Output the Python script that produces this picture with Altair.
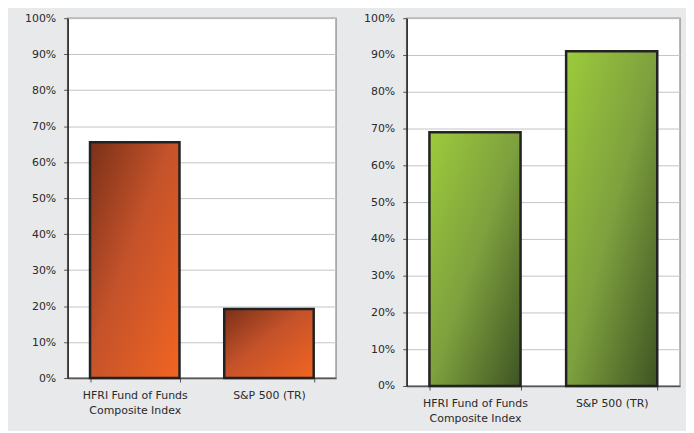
import altair as alt
import pandas as pd

categories = ["HFRI Fund of Funds\nComposite Index", "S&P 500 (TR)"]
left_values = [0.655, 0.192]
right_values = [0.69, 0.91]
tick_values = [0.0, 0.1, 0.2, 0.3, 0.4, 0.5, 0.6, 0.7, 0.8, 0.9, 1.0]

left_df = pd.DataFrame({"cat": categories, "val": left_values})
right_df = pd.DataFrame({"cat": categories, "val": right_values})

orange = alt.Gradient(
    gradient="linear", x1=0, y1=0, x2=1, y2=1,
    stops=[alt.GradientStop(color="#7a3018", offset=0),
           alt.GradientStop(color="#c4522a", offset=0.45),
           alt.GradientStop(color="#f26522", offset=1)],
)
green = alt.Gradient(
    gradient="linear", x1=0, y1=0, x2=1, y2=1,
    stops=[alt.GradientStop(color="#9ccb3b", offset=0),
           alt.GradientStop(color="#7ea03e", offset=0.5),
           alt.GradientStop(color="#3e5423", offset=1)],
)

def panel(df, fill, w, h):
    return alt.Chart(df).mark_bar(
        color=fill, stroke="#222222", strokeWidth=2.5
    ).encode(
        x=alt.X("cat:N", sort=categories, title=None,
                scale=alt.Scale(paddingInner=1/3, paddingOuter=1/6),
                axis=alt.Axis(labelAngle=0, labelExpr="split(datum.label, '\\n')",
                              tickBand="extent", tickSize=4, labelPadding=8,
                              labelLineHeight=15, domainColor="#555555",
                              tickColor="#555555")),
        y=alt.Y("val:Q", title=None,
                scale=alt.Scale(domain=[0, 1], nice=False),
                axis=alt.Axis(format=".0%", values=tick_values, labelOverlap=False,
                              tickSize=4, labelPadding=8, domainColor="#222222",
                              tickColor="#555555", gridColor="#c4c4c4")),
    ).properties(width=w, height=h)

left = panel(left_df, orange, 270, 362)
right = panel(right_df, green, 275, 370)

chart = alt.hconcat(left, right, spacing=25).properties(
    background="#e8e9eb",
    padding={"left": 15, "top": 2, "right": 5, "bottom": 5},
).configure_view(
    stroke="#999999", strokeWidth=1.5, fill="white"
).configure_axis(
    labelFont="DejaVu Sans", labelFontSize=11, labelColor="#2a2a2a",
    domainWidth=1.5,
)

chart.save("out.html", embed_options={"renderer": "svg", "actions": False})
